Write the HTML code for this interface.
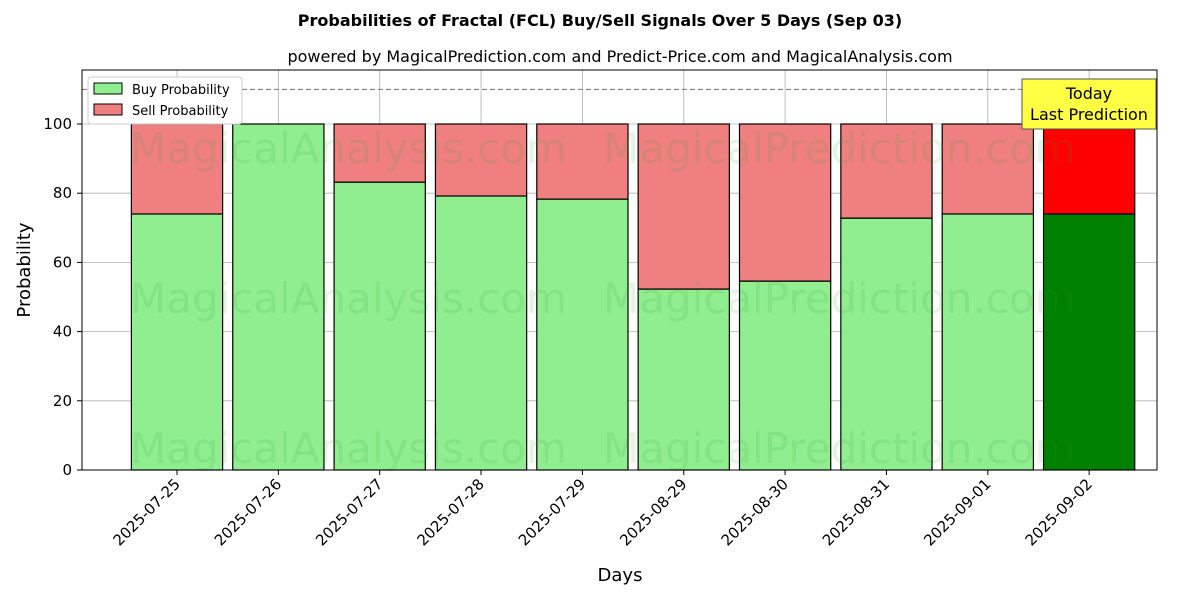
<!DOCTYPE html>
<html><head><meta charset="utf-8"><style>
body{margin:0;background:#fff;font-family:"Liberation Sans","DejaVu Sans",sans-serif}
svg text{font-family:"DejaVu Sans","Liberation Sans",sans-serif}
</style></head><body>
<svg id="chart" width="1200" height="600" xmlns="http://www.w3.org/2000/svg">
<rect width="1200" height="600" fill="#fff"/>
<text x="600" y="26" text-anchor="middle" font-size="16" font-weight="bold">Probabilities of Fractal (FCL) Buy/Sell Signals Over 5 Days (Sep 03)</text>
<text x="620" y="62" text-anchor="middle" font-size="16">powered by MagicalPrediction.com and Predict-Price.com and MagicalAnalysis.com</text>
<g id="grid"></g>
<g id="bars"></g>
<g id="wm" fill="#2ca02c" fill-opacity="0.12" font-size="42">
<text x="130" y="163">MagicalAnalysis.com</text>
<text x="603" y="163">MagicalPrediction.com</text>
<text x="130" y="313">MagicalAnalysis.com</text>
<text x="603" y="313">MagicalPrediction.com</text>
<text x="130" y="463">MagicalAnalysis.com</text>
<text x="603" y="463">MagicalPrediction.com</text>
</g>
<line x1="82" x2="1157" y1="89.4" y2="89.4" stroke="#777" stroke-dasharray="5,3"/>
<rect x="82" y="70" width="1075" height="400" fill="none" stroke="#000"/>
<g id="axes"></g>
<text x="30" y="270" font-size="18" text-anchor="middle" transform="rotate(-90 30 270)">Probability</text>
<text x="620" y="581" font-size="18" text-anchor="middle">Days</text>
<g>
<rect x="88" y="77" width="154" height="47" fill="#fff" stroke="#ccc" rx="3"/>
<rect x="94" y="83" width="28" height="11" fill="#90ee90" stroke="#000"/>
<text x="132" y="94" font-size="13">Buy Probability</text>
<rect x="94" y="104" width="28" height="11" fill="#f08080" stroke="#000"/>
<text x="132" y="115" font-size="13">Sell Probability</text>
</g>
<g>
<rect x="1022" y="79" width="134" height="50" fill="#ffff44" stroke="#555"/>
<text x="1089" y="99" font-size="16" text-anchor="middle">Today</text>
<text x="1089" y="120" font-size="16" text-anchor="middle">Last Prediction</text>
</g>
</svg>
<script>
const categories=["2025-07-25","2025-07-26","2025-07-27","2025-07-28","2025-07-29","2025-08-29","2025-08-30","2025-08-31","2025-09-01","2025-09-02"];
const buyValues=[74,100,83.2,79.2,78.3,52.3,54.6,72.8,74,74];
const yTicks=[0,20,40,60,80,100];
const NS="http://www.w3.org/2000/svg";
const yS=v=>470-v*3.46;
const step=101.35;
const xS=i=>177+i*step;
const bw=step*0.9;
function mk(tag,attrs,parent){const e=document.createElementNS(NS,tag);for(const k in attrs)e.setAttribute(k,attrs[k]);parent.appendChild(e);return e;}
const grid=document.getElementById('grid'),bars=document.getElementById('bars'),axes=document.getElementById('axes');
yTicks.forEach(t=>{
 const l=mk('line',{x1:82,x2:1157,y1:yS(t),y2:yS(t),stroke:'#b0b0b0','stroke-width':0.8},grid);
 
 
 mk('line',{x1:77,x2:82,y1:yS(t),y2:yS(t),stroke:'#000'},axes);
 const tx=mk('text',{x:72,y:yS(t)+5,'font-size':15,'text-anchor':'end'},axes);
 tx.textContent=t;
 
 
});
categories.forEach((c,i)=>{
 const x=xS(i);
 const g=mk('line',{x1:x,x2:x,y1:70,y2:470,stroke:'#b0b0b0','stroke-width':0.8},grid);
 
 
 const last=i===categories.length-1;
 const b=buyValues[i];
 const r1=mk('rect',{x:x-bw/2,y:yS(b),width:bw,height:yS(0)-yS(b),fill:last?'#008000':'#90ee90',stroke:'#000','stroke-width':1.2},bars);
 
 
 const r2=mk('rect',{x:x-bw/2,y:yS(100),width:bw,height:yS(b)-yS(100),fill:last?'#ff0000':'#f08080',stroke:'#000','stroke-width':1.2},bars);
 
 
 mk('line',{x1:x,x2:x,y1:470,y2:475,stroke:'#000'},axes);
 const t=mk('text',{x:x+4,y:485,'font-size':15,'text-anchor':'end',transform:`rotate(-45 ${x+4} 485)`},axes);
 t.textContent=c;
 
 
});
</script>
</body></html>
